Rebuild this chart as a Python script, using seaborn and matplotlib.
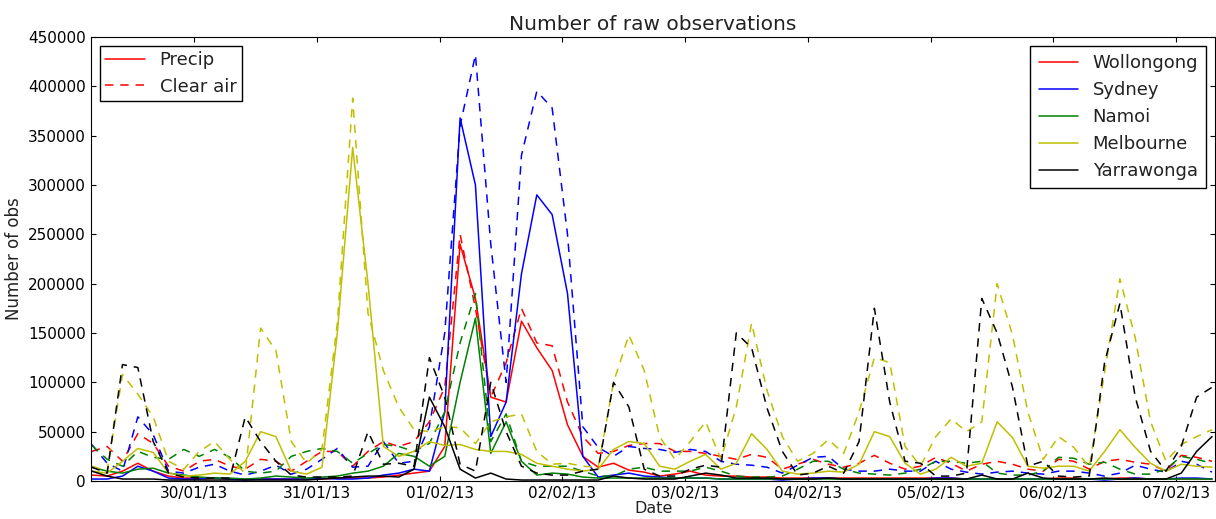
import numpy as np
import pandas as pd
import matplotlib
matplotlib.use('Agg')
import matplotlib.pyplot as plt
import matplotlib.dates as mdates
from matplotlib.lines import Line2D
import seaborn as sns

# 3-hourly sample times, values below in thousands of observations
times = pd.date_range('2013-01-29 04:00', periods=74, freq='3h')

sites = ['Wollongong', 'Sydney', 'Namoi', 'Melbourne', 'Yarrawonga']
site_colors = ['#ff0000', '#0000ff', '#008000', '#bfbf00', '#000000']

wollongong_precip = [6, 5, 10, 18, 10, 5, 3, 3, 3, 2,
                     2, 2, 2, 2, 2, 2, 3, 3, 3, 4,
                     6, 8, 10, 35, 240, 185, 85, 80, 162, 135,
                     112, 57, 25, 14, 18, 11, 9, 5, 7, 10,
                     6, 5, 5, 4, 4, 3, 3, 3, 3, 3,
                     3, 3, 3, 3, 3, 3, 3, 2, 2, 2,
                     2, 2, 2, 3, 3, 2, 2, 3, 3, 2,
                     2, 2, 2, 2]
wollongong_clear = [30, 35, 20, 48, 38, 15, 10, 20, 22, 15,
                    12, 22, 20, 10, 20, 30, 30, 15, 30, 40,
                    35, 40, 60, 95, 250, 175, 85, 120, 175, 140,
                    137, 80, 45, 28, 30, 36, 38, 38, 30, 30,
                    28, 25, 22, 27, 24, 12, 17, 22, 17, 14,
                    18, 26, 18, 12, 15, 24, 18, 10, 17, 20,
                    17, 12, 10, 22, 20, 12, 20, 22, 19, 17,
                    10, 26, 24, 20]

sydney_precip = [2, 2, 5, 15, 10, 3, 2, 2, 3, 2,
                 1, 2, 2, 2, 2, 3, 2, 2, 3, 6,
                 8, 12, 10, 70, 368, 300, 45, 80, 210, 290,
                 270, 190, 25, 4, 6, 8, 5, 4, 3, 3,
                 3, 2, 2, 2, 2, 1, 2, 3, 3, 2,
                 2, 2, 2, 2, 2, 3, 3, 2, 2, 2,
                 2, 2, 2, 2, 2, 2, 1, 2, 3, 2,
                 2, 3, 3, 2]
sydney_clear = [37, 18, 10, 65, 47, 10, 8, 14, 17, 10,
                6, 10, 16, 7, 12, 22, 33, 14, 15, 40,
                18, 20, 55, 150, 360, 432, 240, 100, 330, 395,
                378, 250, 55, 34, 25, 35, 33, 32, 29, 32,
                30, 20, 17, 16, 14, 8, 16, 24, 25, 12,
                10, 10, 12, 10, 10, 20, 12, 9, 7, 9,
                10, 8, 7, 10, 10, 8, 5, 8, 16, 12,
                9, 20, 17, 9]

namoi_precip = [14, 10, 8, 12, 13, 8, 6, 4, 3, 3,
                2, 3, 5, 4, 3, 4, 5, 8, 10, 15,
                28, 25, 15, 25, 100, 165, 28, 60, 20, 6,
                8, 7, 4, 3, 3, 3, 3, 3, 3, 3,
                3, 2, 2, 2, 2, 2, 2, 2, 2, 2,
                2, 2, 2, 2, 2, 2, 2, 2, 2, 2,
                2, 2, 2, 2, 2, 2, 2, 2, 2, 2,
                2, 2, 2, 2]
namoi_clear = [36, 22, 15, 30, 24, 22, 32, 25, 32, 24,
               10, 8, 10, 25, 30, 33, 30, 18, 28, 37,
               35, 30, 38, 70, 140, 190, 40, 68, 20, 15,
               15, 15, 10, 5, 5, 12, 14, 10, 10, 10,
               14, 10, 5, 4, 4, 5, 12, 20, 20, 12,
               8, 7, 6, 8, 12, 20, 20, 18, 20, 8,
               6, 6, 10, 24, 23, 17, 19, 12, 7, 7,
               12, 25, 22, 18]

melbourne_precip = [10, 8, 20, 33, 29, 8, 5, 6, 8, 7,
                    20, 50, 45, 10, 7, 14, 150, 338, 200, 35,
                    25, 30, 40, 36, 37, 32, 30, 30, 27, 18,
                    15, 12, 10, 12, 32, 40, 38, 15, 12, 20,
                    27, 12, 18, 48, 32, 10, 7, 8, 10, 9,
                    17, 50, 45, 18, 7, 12, 24, 15, 18, 60,
                    44, 15, 13, 15, 15, 10, 30, 52, 34, 18,
                    10, 17, 15, 14]
melbourne_clear = [15, 10, 108, 88, 65, 20, 12, 30, 40, 22,
                   8, 155, 132, 40, 18, 32, 160, 388, 170, 112,
                   75, 52, 50, 55, 54, 38, 60, 65, 68, 30,
                   17, 18, 15, 14, 100, 148, 112, 45, 22, 40,
                   60, 22, 75, 160, 92, 45, 20, 28, 42, 28,
                   70, 125, 120, 35, 15, 45, 63, 50, 60, 200,
                   148, 70, 22, 45, 34, 14, 110, 205, 145, 60,
                   20, 37, 45, 52]

yarrawonga_precip = [10, 5, 2, 2, 2, 1, 1, 1, 1, 1,
                     1, 1, 1, 1, 1, 2, 3, 4, 5, 5,
                     4, 12, 85, 55, 12, 3, 8, 2, 1, 1,
                     1, 1, 1, 1, 5, 3, 2, 2, 2, 5,
                     8, 6, 3, 3, 3, 2, 2, 2, 3, 2,
                     2, 2, 2, 2, 2, 2, 2, 2, 6, 2,
                     2, 8, 3, 2, 2, 2, 3, 2, 2, 2,
                     2, 8, 30, 45]
yarrawonga_clear = [14, 8, 118, 115, 40, 8, 4, 3, 3, 3,
                    65, 40, 20, 6, 4, 4, 4, 5, 50, 17,
                    18, 15, 125, 85, 17, 10, 100, 50, 15, 8,
                    6, 6, 10, 12, 100, 75, 12, 5, 5, 12,
                    16, 14, 150, 135, 74, 30, 6, 8, 15, 8,
                    40, 175, 80, 20, 18, 5, 5, 8, 185, 150,
                    95, 15, 20, 5, 4, 5, 120, 180, 85, 30,
                    10, 35, 85, 95]

precip_series = [wollongong_precip, sydney_precip, namoi_precip, melbourne_precip, yarrawonga_precip]
clear_series = [wollongong_clear, sydney_clear, namoi_clear, melbourne_clear, yarrawonga_clear]

frames = []
for site, prec, clear in zip(sites, precip_series, clear_series):
    frames.append(pd.DataFrame({'time': times, 'obs': np.array(prec) * 1000,
                                'site': site, 'kind': 'Precip'}))
    frames.append(pd.DataFrame({'time': times, 'obs': np.array(clear) * 1000,
                                'site': site, 'kind': 'Clear air'}))
df = pd.concat(frames, ignore_index=True)

# old-style matplotlib look
sns.set_style('white', rc={'axes.edgecolor': 'black', 'axes.linewidth': 1.0,
                           'xtick.direction': 'in', 'ytick.direction': 'in',
                           'xtick.top': True, 'ytick.right': True,
                           'xtick.bottom': True, 'ytick.left': True,
                           'xtick.major.size': 4, 'ytick.major.size': 4,
                           'xtick.major.pad': 2.5, 'ytick.major.pad': 3.5,
                           'text.color': '#222222', 'xtick.color': 'black',
                           'ytick.color': 'black', 'axes.labelcolor': '#222222'})
plt.rcParams['font.family'] = ['DejaVu Sans']

fig, ax = plt.subplots(figsize=(12.16, 5.19), dpi=100)
fig.subplots_adjust(left=0.0748, right=0.9995, bottom=0.0732, top=0.9287)

sns.lineplot(data=df, x='time', y='obs', hue='site', style='kind',
             hue_order=sites, style_order=['Precip', 'Clear air'],
             palette=dict(zip(sites, site_colors)),
             dashes={'Precip': '', 'Clear air': (5.5, 4.5)},
             estimator=None, linewidth=1.1, legend=False, ax=ax)

ax.set_xlim(pd.Timestamp('2013-01-29 03:50'), pd.Timestamp('2013-02-07 07:40'))
ax.set_ylim(0, 450000)
ax.set_yticks(np.arange(0, 450001, 50000))
ax.xaxis.set_major_locator(mdates.DayLocator())
ax.xaxis.set_major_formatter(mdates.DateFormatter('%d/%m/%y'))
ax.tick_params(labelsize=11)

ax.set_title('Number of raw observations', fontsize=14.5, pad=5)
ax.set_xlabel('Date', fontsize=11.5, labelpad=0)
ax.set_ylabel('Number of obs', fontsize=12)

kind_handles = [Line2D([], [], color='#ff0000', lw=1.1, ls='-'),
                Line2D([], [], color='#ff0000', lw=1.1, dashes=(5.5, 4.5))]
leg1 = ax.legend(kind_handles, ['Precip', 'Clear air'], loc='upper left',
                 fontsize=13, fancybox=False, edgecolor='black', framealpha=1,
                 handlelength=2.2, borderpad=0.3, labelspacing=0.45)
leg1.get_frame().set_linewidth(1.0)
ax.add_artist(leg1)

site_handles = [Line2D([], [], color=c, lw=1.1) for c in site_colors]
leg2 = ax.legend(site_handles, sites, loc='upper right',
                 fontsize=13, fancybox=False, edgecolor='black', framealpha=1,
                 handlelength=2.2, borderpad=0.45, labelspacing=0.5)
leg2.get_frame().set_linewidth(1.0)

fig.savefig('out.png', dpi=100)
